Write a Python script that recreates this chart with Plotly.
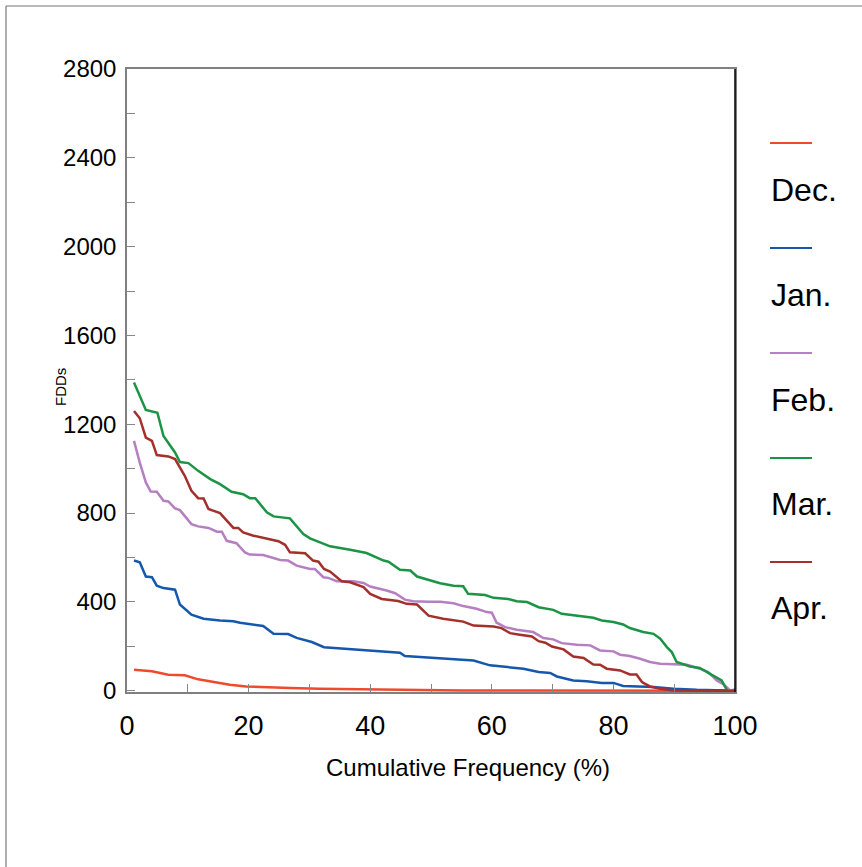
import plotly.graph_objects as go

# ---- data ----
dec_x = [1.15, 4.1, 6.8, 9.5, 11.7, 14.2, 16.9, 19.6, 23.4, 26.8, 31.7, 39.9, 45.4, 55.0, 100.0]
dec_y = [94, 87, 72, 69, 51, 39, 27, 19, 17, 12, 9, 6, 3, 1, 0]

jan_x = [1.15, 2.1, 3.1, 4.1, 4.9, 6.0, 7.9, 8.7, 10.6, 12.6, 15.3, 17.5, 18.6, 21.3, 22.4,
         24.1, 26.5, 27.9, 30.4, 32.4, 34.5, 37.2, 40.0, 42.7, 44.9, 45.7, 49.6, 51.5, 57.0,
         59.7, 61.4, 65.2, 67.7, 69.6, 70.7, 73.4, 75.6, 78.1, 80.0, 81.6, 86.6, 89.9, 93.7,
         98.7, 100.0]
jan_y = [586, 578, 514, 511, 473, 462, 455, 388, 342, 324, 316, 313, 306, 297, 291,
         256, 255, 238, 219, 196, 192, 186, 181, 178, 171, 156, 150, 144, 136,
         114, 109, 99, 84, 80, 64, 46, 42, 35, 35, 21, 17, 9, 4,
         1, 0]

feb_x = [1.15, 2.1, 3.1, 3.9, 4.9, 6.0, 6.8, 7.9, 8.7, 10.6, 11.7, 13.4, 14.8, 15.6, 16.4,
         18.0, 19.4, 20.2, 22.4, 24.1, 25.2, 26.5, 27.9, 30.1, 30.9, 32.3, 33.1, 34.5, 37.2,
         38.9, 40.0, 42.7, 44.1, 45.7, 47.1, 49.6, 51.5, 53.7, 55.3, 57.5, 59.2, 60.0, 60.8,
         62.2, 64.1, 66.8, 68.5, 70.1, 71.5, 74.0, 76.2, 77.8, 80.0, 81.1, 82.7, 84.4, 86.0,
         87.7, 89.9, 92.1, 94.2, 95.6, 97.0, 98.0, 99.2, 100.0]
feb_y = [1125, 1027, 938, 897, 896, 855, 852, 821, 813, 750, 740, 733, 716, 716, 675,
         664, 623, 613, 611, 598, 589, 586, 563, 548, 548, 511, 508, 493, 493,
         485, 469, 451, 439, 410, 403, 401, 401, 394, 381, 369, 354, 351, 306,
         286, 274, 264, 237, 231, 214, 207, 204, 181, 177, 162, 156, 144, 129,
         121, 118, 117, 99, 84, 46, 31, 1, 5]

mar_x = [1.15, 3.1, 5.0, 6.0, 7.9, 8.7, 10.1, 11.7, 13.7, 15.3, 17.2, 19.1, 20.2, 21.1, 23.0,
         24.1, 26.8, 29.0, 30.1, 31.7, 33.4, 36.7, 39.4, 42.2, 43.0, 44.9, 46.6, 47.7, 49.6,
         51.5, 53.7, 55.3, 56.1, 58.9, 60.3, 62.7, 64.1, 65.8, 67.7, 70.1, 71.5, 74.0, 76.7,
         78.1, 80.0, 81.6, 82.7, 84.9, 86.6, 87.7, 88.8, 89.6, 90.4, 92.6, 94.2, 95.9, 97.8,
         98.7]
mar_y = [1388, 1264, 1252, 1147, 1073, 1030, 1025, 990, 953, 930, 896, 885, 867, 867, 803,
         785, 776, 705, 686, 668, 650, 635, 620, 586, 581, 545, 541, 514, 500,
         484, 473, 470, 436, 431, 418, 413, 403, 399, 376, 364, 346, 336, 328,
         316, 309, 298, 282, 264, 256, 234, 196, 174, 129, 109, 102, 76, 46,
         1]

apr_x = [1.15, 2.1, 3.1, 4.1, 4.9, 6.8, 7.9, 9.5, 10.6, 11.7, 12.6, 13.4, 15.3, 17.5, 18.3,
         19.1, 20.8, 23.0, 24.9, 26.0, 26.8, 29.3, 30.6, 31.5, 32.4, 33.4, 35.3, 36.7, 38.9,
         40.0, 41.9, 44.6, 46.0, 47.7, 48.2, 49.6, 52.0, 55.3, 57.0, 60.3, 61.6, 63.0, 64.6,
         66.6, 67.7, 68.8, 69.9, 71.8, 73.4, 75.1, 76.7, 77.8, 78.9, 81.1, 82.7, 83.8, 84.7,
         86.0, 87.7, 89.9, 100.0]
apr_y = [1260, 1227, 1140, 1125, 1061, 1055, 1043, 968, 900, 867, 866, 818, 800, 733, 733,
         713, 698, 683, 673, 657, 623, 619, 586, 581, 548, 536, 493, 488, 466,
         436, 413, 404, 391, 388, 376, 338, 324, 311, 293, 289, 282, 259, 252,
         244, 223, 216, 199, 186, 154, 147, 118, 117, 99, 91, 73, 73, 39,
         19, 9, 1, 0]

series_names = ["Dec.", "Jan.", "Feb.", "Mar.", "Apr."]
series_x = [dec_x, jan_x, feb_x, mar_x, apr_x]
series_y = [dec_y, jan_y, feb_y, mar_y, apr_y]
colors = ["#ee4a2b", "#1657ae", "#b57fc2", "#1b9445", "#a3302a"]

x_ticks = [0, 20, 40, 60, 80, 100]
y_ticks = [0, 400, 800, 1200, 1600, 2000, 2400, 2800]

FONT = "Liberation Sans, Arial, sans-serif"

fig = go.Figure()
for name, xs, ys, c in zip(series_names, series_x, series_y, colors):
    fig.add_trace(go.Scatter(x=xs, y=ys, mode="lines", name=name,
                             line=dict(color=c, width=2.5), showlegend=False))

# plot-area geometry (pixels)
L, R, T, B = 127, 735, 69, 692
W, H = 862, 867
pw, ph = R - L, B - T

def px2x(px):
    return (px - L) / pw

def py2y(py):
    return (B - py) / ph

shapes = []
annotations = []
# custom legend: line sample above label
leg_line_y = [143, 248, 353, 458, 562]
leg_text_y = [190, 295, 400, 504, 608]
for name, c, ly, ty in zip(series_names, colors, leg_line_y, leg_text_y):
    shapes.append(dict(type="line", xref="paper", yref="paper",
                       x0=px2x(770), x1=px2x(812), y0=py2y(ly), y1=py2y(ly),
                       line=dict(color=c, width=2)))
    annotations.append(dict(text=name, xref="paper", yref="paper",
                            x=px2x(769), y=py2y(ty), xanchor="left", yanchor="middle",
                            showarrow=False, font=dict(size=32, color="black", family=FONT)))

# right edge of frame is black
shapes.append(dict(type="line", xref="paper", yref="paper", x0=1, x1=1, y0=0, y1=1,
                   line=dict(color="black", width=1.5)))
# outer page border (top and left)
shapes.append(dict(type="line", xref="paper", yref="paper",
                   x0=px2x(6), x1=px2x(862), y0=py2y(6), y1=py2y(6),
                   line=dict(color="#777777", width=1.2)))
shapes.append(dict(type="line", xref="paper", yref="paper",
                   x0=px2x(6), x1=px2x(6), y0=py2y(6), y1=py2y(867),
                   line=dict(color="#777777", width=1.2)))

# axis titles
annotations.append(dict(text="Cumulative Frequency (%)", xref="paper", yref="paper",
                        x=px2x(468), y=py2y(767), xanchor="center", yanchor="middle",
                        showarrow=False, font=dict(size=24, color="black", family=FONT)))
annotations.append(dict(text="FDDs", xref="paper", yref="paper",
                        x=px2x(60), y=py2y(387), xanchor="center", yanchor="middle",
                        textangle=-90, showarrow=False,
                        font=dict(size=15, color="black", family=FONT)))

fig.update_layout(
    width=W, height=H,
    margin=dict(l=L, r=W - R, t=T, b=H - B, pad=0),
    paper_bgcolor="white", plot_bgcolor="white",
    font=dict(family=FONT, color="black"),
    shapes=shapes, annotations=annotations,
    showlegend=False,
)
fig.update_xaxes(range=[0, 100], tickvals=x_ticks, ticktext=[str(v) for v in x_ticks],
                 ticks="inside", ticklen=0, ticklabelstandoff=9,
                 tickfont=dict(size=27, family=FONT),
                 showgrid=False, zeroline=False, showline=True, linecolor="#808080",
                 linewidth=1.5, mirror=True,
                 minor=dict(dtick=10, ticks="inside", ticklen=8, tickcolor="#888888", tickwidth=1))
fig.update_yaxes(range=[-6, 2800], tickvals=y_ticks, ticktext=[str(v) for v in y_ticks],
                 ticks="inside", ticklen=8, tickcolor="#888888", ticklabelstandoff=4,
                 tickfont=dict(size=24, family=FONT),
                 showgrid=False, zeroline=False, showline=True, linecolor="#808080",
                 linewidth=1.5, mirror=True,
                 minor=dict(dtick=200, ticks="inside", ticklen=8, tickcolor="#888888", tickwidth=1))

fig.write_html("out.html", config={"displayModeBar": False},
               post_script="document.body.style.margin='0';")
